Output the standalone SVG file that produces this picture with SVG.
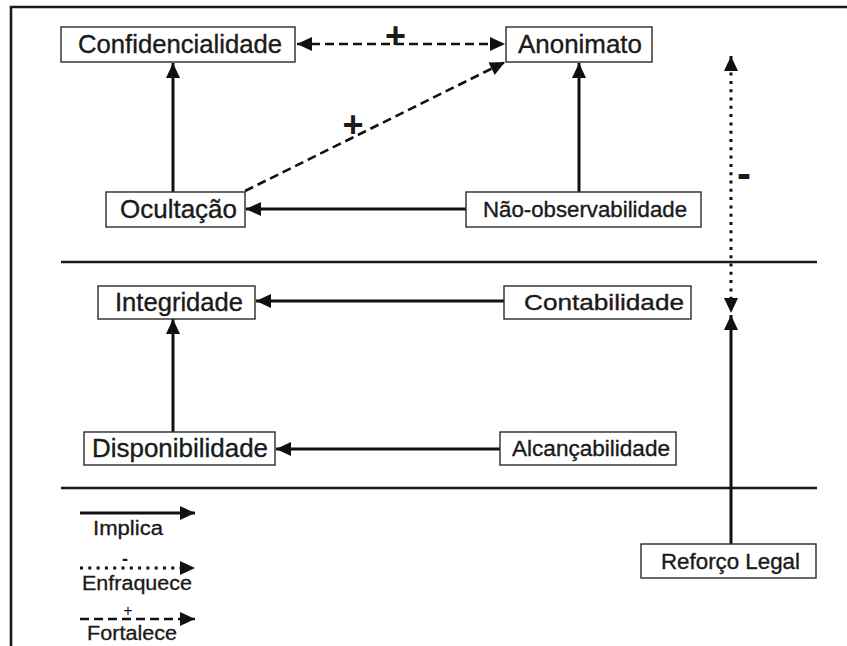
<svg xmlns="http://www.w3.org/2000/svg" width="847" height="646" viewBox="0 0 847 646">
<style>
  .box{fill:#fff;stroke:#2a2a2a;stroke-width:1.4}
  .lbl{font-family:"Liberation Sans",Arial,sans-serif;font-size:25px;fill:#1a1a1a;stroke:#1a1a1a;stroke-width:0.35}
  .sm{font-size:22px}
  .leg{font-family:"Liberation Sans",Arial,sans-serif;font-size:20px;fill:#1a1a1a;stroke:#1a1a1a;stroke-width:0.3}
  .sign{font-family:"Liberation Sans",Arial,sans-serif;fill:#1a1a1a;text-anchor:middle}
  .solid{stroke:#111;stroke-width:3;fill:none}
  .dash{stroke:#111;stroke-width:2.6;fill:none;stroke-dasharray:9 5}
  .dot{stroke:#111;stroke-width:3;fill:none;stroke-dasharray:3 5.3}
  .frame{stroke:#1a1a1a;stroke-width:2.6;fill:none}
</style>
<defs>
  <marker id="ah" viewBox="0 0 15 14" refX="15" refY="7" markerWidth="15" markerHeight="14" markerUnits="userSpaceOnUse" orient="auto-start-reverse">
    <path d="M0,0 L15,7 L0,14 z" fill="#111"/>
  </marker>
</defs>
<rect width="847" height="646" fill="#fff"/>
<g id="frame">
  <path class="frame" d="M11,646 V7 H847"/>
  <line class="frame" x1="61" y1="262" x2="817" y2="262"/>
  <line class="frame" x1="61" y1="488" x2="817" y2="488"/>
</g>
<g id="connectors">
  <line class="dash" x1="297" y1="44" x2="505" y2="44" marker-start="url(#ah)" marker-end="url(#ah)"/>
  <line class="solid" x1="173" y1="192" x2="173" y2="63" marker-end="url(#ah)"/>
  <line class="solid" x1="579" y1="192" x2="579" y2="63" marker-end="url(#ah)"/>
  <line class="dash" x1="245" y1="191" x2="505" y2="62" marker-end="url(#ah)"/>
  <line class="solid" x1="466" y1="209" x2="246" y2="209" marker-end="url(#ah)"/>
  <line class="solid" x1="504" y1="301" x2="256" y2="301" marker-end="url(#ah)"/>
  <line class="solid" x1="173" y1="432" x2="173" y2="319" marker-end="url(#ah)"/>
  <line class="solid" x1="500" y1="449" x2="276" y2="449" marker-end="url(#ah)"/>
  <line class="solid" x1="731" y1="544" x2="731" y2="315" marker-end="url(#ah)"/>
  <line class="dot" x1="731" y1="56" x2="731" y2="313" marker-start="url(#ah)" marker-end="url(#ah)"/>
  <text class="sign" x="395.5" y="48" style="font-size:36px;font-weight:bold">+</text>
  <text class="sign" x="353" y="137" style="font-size:36px;font-weight:bold">+</text>
  <text class="sign" x="744" y="188" style="font-size:42px;font-weight:bold">-</text>
</g>
<g id="confidencialidade">
  <rect class="box" x="61" y="27" width="234" height="35"/>
  <text class="lbl" x="78" y="53" textLength="204" lengthAdjust="spacingAndGlyphs">Confidencialidade</text>
</g>
<g id="anonimato">
  <rect class="box" x="506" y="27" width="146" height="35"/>
  <text class="lbl" x="518" y="53" textLength="124" lengthAdjust="spacingAndGlyphs">Anonimato</text>
</g>
<g id="ocultacao">
  <rect class="box" x="106" y="192" width="139" height="35"/>
  <text class="lbl" x="120" y="218" textLength="117" lengthAdjust="spacingAndGlyphs">Ocultação</text>
</g>
<g id="nao-observabilidade">
  <rect class="box" x="466" y="192" width="235" height="35"/>
  <text class="lbl sm" x="483" y="217" textLength="204" lengthAdjust="spacingAndGlyphs">Não-observabilidade</text>
</g>
<g id="integridade">
  <rect class="box" x="98" y="286" width="157" height="33"/>
  <text class="lbl" x="115" y="311" textLength="128" lengthAdjust="spacingAndGlyphs">Integridade</text>
</g>
<g id="contabilidade">
  <rect class="box" x="504" y="286" width="187" height="33"/>
  <text class="lbl sm" x="524" y="310" textLength="160" lengthAdjust="spacingAndGlyphs">Contabilidade</text>
</g>
<g id="disponibilidade">
  <rect class="box" x="84" y="432" width="191" height="33"/>
  <text class="lbl" x="92" y="457" textLength="176" lengthAdjust="spacingAndGlyphs">Disponibilidade</text>
</g>
<g id="alcancabilidade">
  <rect class="box" x="500" y="432" width="176" height="33"/>
  <text class="lbl sm" x="512" y="456" textLength="158" lengthAdjust="spacingAndGlyphs">Alcançabilidade</text>
</g>
<g id="reforco-legal">
  <rect class="box" x="641" y="544" width="175" height="34"/>
  <text class="lbl sm" x="661" y="569" textLength="139" lengthAdjust="spacingAndGlyphs">Reforço Legal</text>
</g>
<g id="legend">
  <line class="solid" x1="80" y1="513" x2="195" y2="513" marker-end="url(#ah)"/>
  <text class="leg" x="93" y="535" textLength="70" lengthAdjust="spacingAndGlyphs">Implica</text>
  <line class="dot" x1="80" y1="568" x2="195" y2="568" marker-end="url(#ah)"/>
  <text class="sign" x="125" y="565" style="font-size:18px;font-weight:bold">-</text>
  <text class="leg" x="82" y="590" textLength="110" lengthAdjust="spacingAndGlyphs">Enfraquece</text>
  <line class="dash" x1="80" y1="619" x2="195" y2="619" marker-end="url(#ah)"/>
  <text class="sign" x="128" y="615.5" style="font-size:16px">+</text>
  <text class="leg" x="87" y="640" textLength="90" lengthAdjust="spacingAndGlyphs">Fortalece</text>
</g>
</svg>
